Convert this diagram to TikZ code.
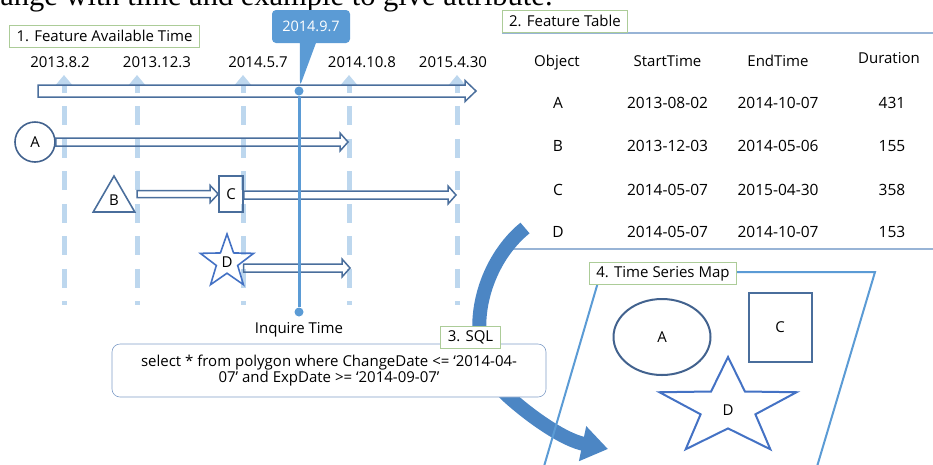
\documentclass[tikz,border=0pt]{standalone}
\usepackage{fontspec}
\setmainfont{Open Sans}
\newfontfamily\captionfont{Liberation Serif}
\usepackage{tikz}
\usetikzlibrary{calc, shapes, shapes.geometric, shapes.callouts, arrows.meta, positioning}

\definecolor{objblue}{RGB}{66,98,142}
\definecolor{arrblue}{RGB}{74,110,156}
\definecolor{starblue}{RGB}{68,114,196}
\definecolor{inqblue}{RGB}{91,155,213}
\definecolor{dashblue}{RGB}{189,215,238}
\definecolor{tagline}{RGB}{172,204,152}
\definecolor{rulegray}{RGB}{152,180,214}
\definecolor{sqlline}{RGB}{128,158,200}
\definecolor{bigblue}{RGB}{76,134,196}

% hollow arrow: start, end, half body, half head, head length
\newcommand{\hollowarrow}[5]{%
  \path (#1 |- #2) coordinate (hs) (#2) coordinate (he);
  \draw[hollow] ($(hs)+(0,-#3)$) -- ($(he)+(-#5,-#3)$) -- ($(he)+(-#5,-#4)$) -- (he)
    -- ($(he)+(-#5,#4)$) -- ($(he)+(-#5,#3)$) -- ($(hs)+(0,#3)$) -- cycle;}

\begin{document}
\begin{tikzpicture}[x=1pt,y=-1pt,semithick,node distance=3pt,
        font=\fontsize{15}{16}\selectfont]
        \tikzstyle{tag}=[draw=tagline,fill=white,line width=0.9pt,inner xsep=7pt,minimum height=22pt]
        \tikzstyle{obj}=[draw=objblue,line width=1.6pt,inner sep=0pt]
        \tikzstyle{hollow}=[draw=arrblue,line width=1.5pt,line join=miter]
        \tikzstyle{avail}=[draw=dashblue,line width=5pt,dash pattern=on 19pt off 13.5pt,dash phase=10.5pt,
          arrows={Triangle[width=16pt,length=10pt]-}]
        \tikzstyle{dot}=[circle,fill=inqblue,inner sep=0pt,minimum size=9pt]
        \tikzstyle{cell}=[anchor=base,inner sep=0pt]
        \tikzstyle{data}=[cell,font=\fontsize{15.5}{17}\selectfont]
        \tikzstyle{mapline}=[draw=inqblue,line width=2pt]
        \useasboundingbox (0,0) rectangle (933,464);
        \node[anchor=base west,inner sep=0pt,font=\captionfont\fontsize{30.5}{32}\selectfont]
          (caption) at (0,5.5) {ange with time and example to give attribute.};

        % 1. timeline
        \node[tag](tag1) at (104.5,36){1. Feature Available Time};
        \node[cell](t1) at (60,67){2013.8.2};
        \node[cell](t2) at (157,67){2013.12.3};
        \node[cell](t3) at (258,67){2014.5.7};
        \node[cell](t4) at (362,67){2014.10.8};
        \node[cell](t5) at (453,67){2015.4.30};
        \foreach \x in {64,137,243,349,457}
          \draw[avail] (\x,75) -- (\x,305);
        \coordinate (tStart) at (38,91);
        \coordinate (tEnd) at (476,91);
        \hollowarrow{tStart}{tEnd}{6}{10.5}{11}

        \node[obj,circle,minimum size=40pt](A) at (35,142){A};
        \node[obj,draw=arrblue,regular polygon,regular polygon sides=3,minimum size=48pt](B) at (114,200){B};
        \node[obj,draw=arrblue,rectangle,minimum width=24pt,minimum height=36pt](C) at (231,194){C};
        \node[obj,draw=starblue,star,star points=5,star point ratio=2.5,minimum size=56pt](D) at (227,262){D};
        \coordinate (aEnd) at (348,142);
        \coordinate (bStart) at (137,195);
        \coordinate (cEnd) at (456,195);
        \coordinate (dEnd) at (350,268);
        \hollowarrow{A.east}{aEnd}{4}{9}{8}
        \hollowarrow{bStart}{C.west}{3.5}{8.5}{8}
        \hollowarrow{C.east}{cEnd}{4}{9}{8}
        \hollowarrow{D.east}{dEnd}{4}{9}{8}

        \node[dot](qTop) at (299,91){};
        \node[dot](qBot) at (299,312){};
        \draw[inqblue,line width=3pt] (qTop) -- (qBot);
        \node[below=2pt of qBot](inq){Inquire Time};
        \node[rectangle callout,fill=inqblue,text=white,rounded corners=4pt,
          minimum width=78pt,minimum height=33pt,callout pointer width=16pt,
          callout absolute pointer={(300,86)},font=\fontsize{14.5}{16}\selectfont](qDate) at (311,26.5){2014.9.7};

        % 2. feature table
        \draw[rulegray,line width=1.2pt] (502,33) -- (933,33);
        \draw[rulegray,line width=1.2pt] (513,249) -- (933,249);
        \node[tag](tag2) at (565,21){2. Feature Table};
        \node[cell](hObj) at (557,66.5){Object};
        \node[cell](hStart) at (667.5,66.5){StartTime};
        \node[cell](hEnd) at (778,66.5){EndTime};
        \node[cell](hDur) at (889,63){Duration};
        \node[data](oA) at (558,108){A}; \node[data](sA) at (667.5,108){2013-08-02}; \node[data](eA) at (778,108){2014-10-07}; \node[data](dA) at (892,108){431};
        \node[data](oB) at (558,151.5){B}; \node[data](sB) at (667.5,151.5){2013-12-03}; \node[data](eB) at (778,151.5){2014-05-06}; \node[data](dB) at (892,151.5){155};
        \node[data](oC) at (558,195){C}; \node[data](sC) at (667.5,195){2014-05-07}; \node[data](eC) at (778,195){2015-04-30}; \node[data](dC) at (892,195){358};
        \node[data](oD) at (558,237.5){D}; \node[data](sD) at (667.5,237.5){2014-05-07}; \node[data](eD) at (778,237.5){2014-10-07}; \node[data](dD) at (892,237.5){153};

        % 3. sql
        \coordinate (sqlFrom) at (525,228);
        \coordinate (sqlTo) at (608,449);
        \draw[bigblue,line width=14pt,-{Triangle[width=34pt,length=26pt]}]
          (sqlFrom) .. controls (478,266) and (458,352) .. (510,398)
          .. controls (535,420) and (565,440) .. (sqlTo);
        \node[draw=sqlline,fill=white,rounded corners=8pt,minimum width=434pt,minimum height=53pt,
          align=center](sql) at (329,370.5){select * from polygon where ChangeDate <= ‘2014-04-\\07’ and ExpDate >= ‘2014-09-07’};
        \node[tag](tag3) at (470.5,337){3. SQL};

        % 4. map
        \draw[mapline] (540,480) -- (601,272) -- (875,272) -- (813,480);
        \node[tag](tag4) at (663,273.5){4. Time Series Map};
        \node[obj,draw=objblue,ellipse,line width=2pt,minimum width=97pt,minimum height=76pt](mA) at (662,337){A};
        \node[obj,draw=arrblue,rectangle,line width=2pt,minimum width=63pt,minimum height=69pt](mC) at (780,327.5){C};
        \draw[draw=starblue,line width=2pt] plot[samples at={0,...,9},variable=\k]
          ({728+72*(1-0.6*mod(\k,2))*cos(270+36*\k)},{408+51*(1-0.6*mod(\k,2))*sin(270+36*\k)}) -- cycle;
        \node(mD) at (728,410){D};
\end{tikzpicture}
\end{document}
